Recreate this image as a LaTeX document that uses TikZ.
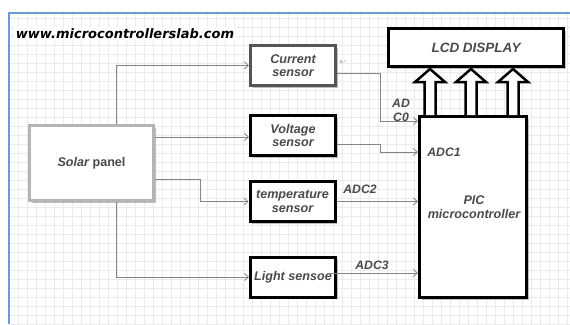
\documentclass[tikz,border=0pt]{standalone}
\usepackage{fontspec}
\setmainfont{Liberation Sans}
\newfontfamily\titlefont{DejaVu Sans}
\usetikzlibrary{arrows.meta,shadows}
\definecolor{txtgray}{HTML}{4A4A4A}
\definecolor{linegray}{HTML}{858585}
\definecolor{gridc}{HTML}{EBEBEB}
\definecolor{framec}{HTML}{6A9BDB}
\definecolor{solarc}{HTML}{B4B4B4}
\definecolor{curc}{HTML}{555555}
\begin{document}
\begin{tikzpicture}[x=1pt,y=-1pt,
  box/.style={draw=black, line width=3pt, fill=white, minimum width=85pt, minimum height=40pt,
    inner sep=1pt, align=center, font=\fontsize{12.6}{13.5}\selectfont\bfseries\itshape, text=txtgray,
    drop shadow={shadow xshift=2pt,shadow yshift=-2pt,fill=black,opacity=0.25}},
  conn/.style={draw=linegray, line width=0.8pt, -{Straight Barb[length=4pt,width=7pt]}},
  lbl/.style={font=\fontsize{12.2}{14}\selectfont\bfseries\itshape, text=txtgray, inner sep=0pt, align=center},
  bigarrow/.style={draw=black, line width=2.5pt, fill=white, line join=miter}
]
\useasboundingbox (0,0) rectangle (570,324);
\fill[white] (0,0) rectangle (570,324);
\draw[gridc, line width=0.5pt, step=9pt] (10,14) grid (570,324);
\draw[framec, line width=1.5pt] (9,324) -- (9,13) -- (570,13);

\node[fill=white, inner sep=2pt, font=\titlefont\fontsize{13}{15}\selectfont\bfseries\itshape] (title) at (125,34) {www.microcontrollerslab.com};

% nodes
\node[box, draw=solarc, minimum width=124pt, minimum height=75pt] (solar) at (91.5,163) {{\itshape Solar} {\upshape panel}};
\node[box, draw=curc] (cur) at (293,65.5) {Current\\sensor};
\node[box] (volt) at (293,135.5) {Voltage\\sensor};
\node[box] (temp) at (292.5,201.5) {temperature\\sensor};
\node[box] (light) at (293,277) {Light sensoe};
\node[box, minimum width=175pt, minimum height=38pt, font=\fontsize{13.5}{15}\selectfont\bfseries\itshape] (lcd) at (476,47.5) {LCD DISPLAY};
\node[box, minimum width=107pt, minimum height=181pt] (pic) at (473,207) {};
\node[lbl, font=\fontsize{12.6}{14}\selectfont\bfseries\itshape] (pictext) at (474,207) {PIC\\microcontroller};

% block arrows
\foreach \dx in {-43,-2,40} {
  \draw[bigarrow] ([xshift=\dx pt-5.5pt]pic.north) -- ++(0,-33) -- ++(-9.5,0) -- ++(15,-13) -- ++(15,13) -- ++(-9.5,0) -- ++(0,33);
}

% connectors from solar panel
\coordinate (s1) at ([yshift=26pt]solar.east);
\draw[conn] ([xshift=24.5pt]solar.north) |- (cur.west);
\draw[conn] (s1) -- (s1 -| volt.west);
\draw[conn] ([yshift=-16pt]solar.east) -- ++(45,0) |- (temp.west);
\draw[conn] ([xshift=24.5pt]solar.south) |- (light.west);

% connectors to PIC
\draw[conn] ([yshift=-7.5pt]cur.east) -- ++(43,0) |- ([yshift=86pt]pic.west);
\draw[conn] ([yshift=-8.5pt]volt.east) -- ++(43,0) |- ([yshift=55pt]pic.west);
\draw[conn] (temp.east) -- (temp.east -| pic.west);
\coordinate (lightout) at ([xshift=-10pt,yshift=4pt]light.east);
\draw[conn] (lightout) -- (lightout -| pic.west);

% labels
\node[font=\fontsize{4}{5}\selectfont, text=txtgray, inner sep=0pt] (mult) at (343,62) {0..*};
\node[lbl] (l0) at (401,110) {AD\\C0};
\node[lbl] (l1) at (444,152) {ADC1};
\node[lbl] (l2) at (360,189) {ADC2};
\node[lbl] (l3) at (372,265) {ADC3};
\end{tikzpicture}
\end{document}
